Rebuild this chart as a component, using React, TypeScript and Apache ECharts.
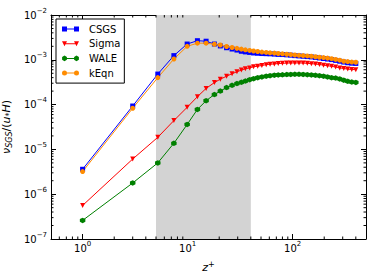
import React, { useEffect, useRef } from "react";
import * as echarts from "echarts";

// ---------- data ----------
const Z_PLUS = [1, 3, 5.2, 7.4, 9.9, 12.4, 15, 18, 20.5, 23.5, 26.5, 29.5, 32.5, 35.5, 39, 42.5, 46.5, 51, 56, 61, 67, 73, 80, 88, 96, 105, 115, 126, 138, 151, 165, 180, 197, 215, 235, 257, 281, 307, 335, 366, 400];
const CSGS = [3.6e-6, 9.3e-5, 4.8e-4, 1.24e-3, 2.25e-3, 2.67e-3, 2.6e-3, 2.25e-3, 2.04e-3, 1.86e-3, 1.74e-3, 1.65e-3, 1.55e-3, 1.5e-3, 1.46e-3, 1.42e-3, 1.4e-3, 1.38e-3, 1.37e-3, 1.36e-3, 1.34e-3, 1.32e-3, 1.31e-3, 1.29e-3, 1.27e-3, 1.24e-3, 1.22e-3, 1.2e-3, 1.18e-3, 1.16e-3, 1.13e-3, 1.1e-3, 1.07e-3, 1.04e-3, 1.01e-3, 9.7e-4, 9.3e-4, 8.9e-4, 8.6e-4, 8.4e-4, 8.3e-4];
const SIGMA = [5.6e-7, 6.1e-6, 1.86e-5, 4.4e-5, 8.7e-5, 1.5e-4, 2.3e-4, 3.1e-4, 3.7e-4, 4.3e-4, 4.9e-4, 5.4e-4, 5.9e-4, 6.3e-4, 6.6e-4, 7.0e-4, 7.2e-4, 7.45e-4, 7.8e-4, 7.95e-4, 8.1e-4, 8.25e-4, 8.35e-4, 8.45e-4, 8.5e-4, 8.5e-4, 8.5e-4, 8.45e-4, 8.35e-4, 8.2e-4, 8.05e-4, 7.85e-4, 7.6e-4, 7.4e-4, 7.15e-4, 6.9e-4, 6.6e-4, 6.4e-4, 6.2e-4, 6.1e-4, 6.0e-4];
const WALE = [2.6e-7, 1.78e-6, 5.0e-6, 1.37e-5, 3.6e-5, 7.8e-5, 1.22e-4, 1.68e-4, 2.0e-4, 2.4e-4, 2.7e-4, 2.95e-4, 3.15e-4, 3.35e-4, 3.6e-4, 3.8e-4, 4.0e-4, 4.15e-4, 4.3e-4, 4.42e-4, 4.52e-4, 4.58e-4, 4.63e-4, 4.68e-4, 4.72e-4, 4.74e-4, 4.74e-4, 4.7e-4, 4.65e-4, 4.58e-4, 4.5e-4, 4.42e-4, 4.3e-4, 4.15e-4, 4.0e-4, 3.9e-4, 3.75e-4, 3.5e-4, 3.3e-4, 3.18e-4, 3.12e-4];
const KEQN = [3.2e-6, 8.3e-5, 4.0e-4, 1.04e-3, 2.0e-3, 2.35e-3, 2.35e-3, 2.22e-3, 2.14e-3, 1.98e-3, 1.88e-3, 1.8e-3, 1.73e-3, 1.67e-3, 1.62e-3, 1.57e-3, 1.53e-3, 1.49e-3, 1.46e-3, 1.43e-3, 1.41e-3, 1.38e-3, 1.36e-3, 1.33e-3, 1.31e-3, 1.28e-3, 1.26e-3, 1.24e-3, 1.22e-3, 1.2e-3, 1.17e-3, 1.14e-3, 1.12e-3, 1.09e-3, 1.06e-3, 1.02e-3, 9.8e-4, 9.3e-4, 9.1e-4, 8.9e-4, 8.8e-4];

const BAND = [5, 40];
const X_RANGE = [0.5, 500];
const Y_RANGE = [1e-7, 1e-2];
const X_MINOR = [0.6, 0.7, 0.8, 0.9, 2, 3, 4, 5, 6, 7, 8, 9, 20, 30, 40, 50, 60, 70, 80, 90, 200, 300, 400];
const Y_DECADES = [1e-7, 1e-6, 1e-5, 1e-4, 1e-3];
const MINOR_MULTS = [2, 3, 4, 5, 6, 7, 8, 9];

// ---------- styles ----------
const FONT = "DejaVu Sans";
const BLACK = "#000000";
const MAJOR_LEN = 5;
const MINOR_LEN = 2.5;

const HEX = "path://M0,-1L0.866,-0.5L0.866,0.5L0,1L-0.866,0.5L-0.866,-0.5Z";
const ICON_SQ = "path://M0,0M22,6M0,0.5h5v5h-5zM12,0.5h5v5h-5zM2.5,2.5h12v1h-12z";
const ICON_TRI = "path://M0,0M22,6M0,0.5h5l-2.5,5zM12,0.5h5l-2.5,5zM2.5,2.5h12v1h-12z";
const ICON_HEX = "path://M0,0M22,6M2.5,0.2L4.9,1.6L4.9,4.4L2.5,5.8L0.1,4.4L0.1,1.6zM14.5,0.2L16.9,1.6L16.9,4.4L14.5,5.8L12.1,4.4L12.1,1.6zM2.5,2.5h12v1h-12z";
const ICON_CIRC = "path://M0,0M22,6M0,3a2.5,2.5 0 1 1 5,0a2.5,2.5 0 1 1 -5,0zM12,3a2.5,2.5 0 1 1 5,0a2.5,2.5 0 1 1 -5,0zM2.5,2.5h12v1h-12z";

function decadeLabel(v: number): string {
  const l = Math.log10(v);
  const e = Math.round(l);
  if (Math.abs(l - e) > 1e-6) return "";
  const s = e < 0 ? "\u2212" + -e : String(e);
  return "10{sup|" + s + "}";
}

const labelStyle = {
  fontFamily: FONT,
  fontSize: 10,
  color: BLACK,
  lineHeight: 16,
  rich: {
    sup: { fontFamily: FONT, fontSize: 7, lineHeight: 6, verticalAlign: "top", color: BLACK },
  },
};

function makeSeries(name: string, values: number[], color: string, symbol: string, extra: any = {}) {
  return {
    type: "line",
    name,
    data: Z_PLUS.map((z, i) => [z, values[i]]),
    xAxisIndex: 0,
    yAxisIndex: 0,
    symbol,
    symbolSize: 5,
    showSymbol: true,
    showAllSymbol: true,
    lineStyle: { color, width: 1 },
    itemStyle: { color, borderWidth: 0 },
    emphasis: { disabled: true },
    z: 3,
    ...extra,
  };
}

export default function App() {
  const ref = useRef<HTMLDivElement>(null);
  useEffect(() => {
    if (!ref.current) return;
    const chart = echarts.init(ref.current, null, { renderer: "svg" });
    const yMinor: number[] = [];
    Y_DECADES.forEach((d) => MINOR_MULTS.forEach((m) => yMinor.push(d * m)));

    const axisCommon = {
      type: "log",
      logBase: 10,
      axisLine: { show: true, lineStyle: { color: BLACK, width: 1 } },
      axisTick: { show: true, inside: true, length: MAJOR_LEN, lineStyle: { color: BLACK, width: 1 } },
      splitLine: { show: false },
      minorTick: { show: false },
    };

    const option: any = {
      animation: false,
      backgroundColor: "#ffffff",
      grid: { left: 51, right: 8, top: 15, bottom: 41, containLabel: false, outerBoundsMode: "none" },
      xAxis: [
        {
          ...axisCommon,
          position: "bottom",
          min: X_RANGE[0],
          max: X_RANGE[1],
          axisLabel: { ...labelStyle, margin: 1, formatter: decadeLabel },
          name: "{i|z}{p|+}",
          nameLocation: "middle",
          nameGap: 16,
          nameTextStyle: {
            fontFamily: FONT,
            fontSize: 11,
            color: BLACK,
            rich: {
              i: { fontFamily: FONT, fontSize: 11, fontStyle: "italic", lineHeight: 14, color: BLACK },
              p: { fontFamily: FONT, fontSize: 8, lineHeight: 7, verticalAlign: "top", color: BLACK },
            },
          },
        },
        {
          ...axisCommon,
          position: "top",
          min: X_RANGE[0],
          max: X_RANGE[1],
          axisLabel: { show: false },
        },
      ],
      yAxis: [
        {
          ...axisCommon,
          position: "left",
          min: Y_RANGE[0],
          max: Y_RANGE[1],
          axisLabel: { ...labelStyle, margin: 4, formatter: decadeLabel },
          name: "{i|\u03bd}{s|SGS}{n|/(}{i|u}{s|*}{i|H}{n|)}",
          nameLocation: "middle",
          nameGap: 30,
          nameRotate: 90,
          nameTextStyle: {
            fontFamily: FONT,
            fontSize: 11,
            color: BLACK,
            rich: {
              i: { fontFamily: FONT, fontSize: 11, fontStyle: "italic", lineHeight: 14, color: BLACK },
              n: { fontFamily: FONT, fontSize: 11, lineHeight: 14, color: BLACK },
              s: { fontFamily: FONT, fontSize: 8, fontStyle: "italic", lineHeight: 7, verticalAlign: "bottom", color: BLACK },
            },
          },
        },
        {
          ...axisCommon,
          position: "right",
          min: Y_RANGE[0],
          max: Y_RANGE[1],
          axisLabel: { show: false },
        },
      ],
      legend: {
        orient: "vertical",
        left: 56,
        top: 19,
        backgroundColor: "#ffffff",
        borderColor: BLACK,
        borderWidth: 1,
        borderRadius: 0,
        padding: [5, 4, 5, 6],
        itemWidth: 22,
        itemHeight: 6,
        itemGap: 4.7,
        itemStyle: { borderWidth: 0 },
        textStyle: { fontFamily: FONT, fontSize: 10, color: BLACK },
        data: [
          { name: "CSGS", icon: ICON_SQ },
          { name: "Sigma", icon: ICON_TRI },
          { name: "WALE", icon: ICON_HEX },
          { name: "kEqn", icon: ICON_CIRC },
        ],
        selectedMode: false,
        z: 20,
      },
      series: [
        {
          type: "line",
          name: "band",
          data: [],
          xAxisIndex: 0,
          yAxisIndex: 0,
          z: 1,
          silent: true,
          markArea: {
            silent: true,
            itemStyle: { color: "#d3d3d3", borderWidth: 0 },
            data: [[{ xAxis: BAND[0] }, { xAxis: BAND[1] }]],
          },
        },
        makeSeries("CSGS", CSGS, "#0000ff", "rect"),
        makeSeries("Sigma", SIGMA, "#ff0000", "triangle", { symbolRotate: 180 }),
        makeSeries("WALE", WALE, "#008000", HEX, { symbolSize: 5.5 }),
        makeSeries("kEqn", KEQN, "#ff8c00", "circle"),
        {
          type: "custom",
          name: "xminor",
          xAxisIndex: 0,
          yAxisIndex: 0,
          z: 10,
          silent: true,
          clip: false,
          data: X_MINOR.map((v) => [v, Y_RANGE[0]]),
          renderItem: (params: any, api: any) => {
            const v = api.value(0);
            const b = api.coord([v, Y_RANGE[0]]);
            const t = api.coord([v, Y_RANGE[1]]);
            const st = { stroke: BLACK, lineWidth: 1 };
            return {
              type: "group",
              children: [
                { type: "line", shape: { x1: b[0], y1: b[1], x2: b[0], y2: b[1] - MINOR_LEN }, style: st },
                { type: "line", shape: { x1: t[0], y1: t[1], x2: t[0], y2: t[1] + MINOR_LEN }, style: st },
              ],
            };
          },
        },
        {
          type: "custom",
          name: "yminor",
          xAxisIndex: 0,
          yAxisIndex: 0,
          z: 10,
          silent: true,
          clip: false,
          data: yMinor.map((v) => [X_RANGE[0], v]),
          renderItem: (params: any, api: any) => {
            const v = api.value(1);
            const l = api.coord([X_RANGE[0], v]);
            const r = api.coord([X_RANGE[1], v]);
            const st = { stroke: BLACK, lineWidth: 1 };
            return {
              type: "group",
              children: [
                { type: "line", shape: { x1: l[0], y1: l[1], x2: l[0] + MINOR_LEN, y2: l[1] }, style: st },
                { type: "line", shape: { x1: r[0], y1: r[1], x2: r[0] - MINOR_LEN, y2: r[1] }, style: st },
              ],
            };
          },
        },
      ],
    };
    chart.setOption(option);
    return () => chart.dispose();
  }, []);
  return (
    <div
      ref={ref}
      style={{ position: "fixed", left: 0, top: 0, width: 374, height: 280 }}
    />
  );
}
